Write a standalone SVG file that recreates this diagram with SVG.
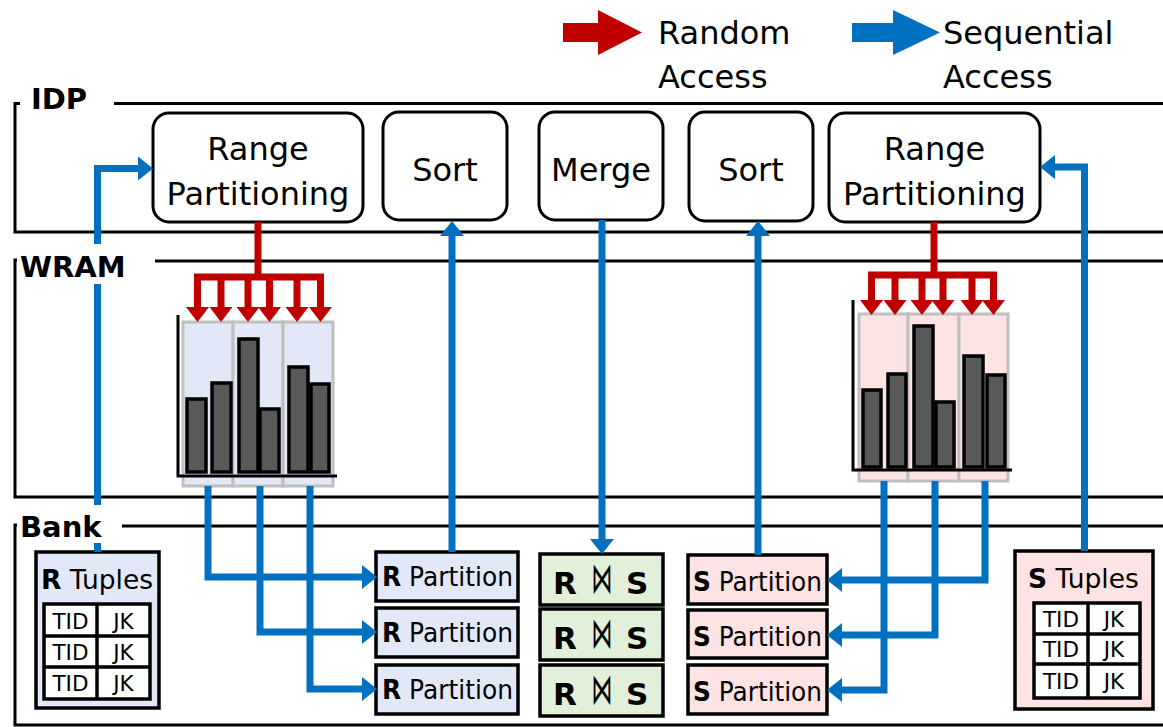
<svg xmlns="http://www.w3.org/2000/svg" width="1163" height="727" viewBox="0 0 1163 727">
  <style>
    text { font-family: "DejaVu Sans", "Liberation Sans", sans-serif; fill: #000; }
    .layer { fill: none; stroke: #000; stroke-width: 3; }
    .lbl { font-size: 29px; font-weight: bold; }
    .op { fill: #fff; stroke: #000; stroke-width: 3; }
    .opt { font-size: 32px; text-anchor: middle; }
    .leg { font-size: 32px; }
    .seq { fill: none; stroke: #0070C0; stroke-width: 7; stroke-linejoin: miter; marker-end: url(#hb); }
    .rnd { fill: none; stroke: #C00000; stroke-width: 7; }
    .rnda { fill: none; stroke: #C00000; stroke-width: 7; marker-end: url(#hr); }
    .colR { fill: #E2E8F7; stroke: #BFBFBF; stroke-width: 3; }
    .colS { fill: #FDE3E3; stroke: #BFBFBF; stroke-width: 3; }
    .bar { fill: #595959; stroke: #000; stroke-width: 3.5; }
    .axis { fill: none; stroke: #000; stroke-width: 3; }
    .boxR { fill: #E2E8F7; stroke: #000; stroke-width: 3.5; }
    .boxS { fill: #FDE3E3; stroke: #000; stroke-width: 3.5; }
    .boxJ { fill: #E2F0D9; stroke: #000; stroke-width: 3.5; }
    .tbl { fill: #fff; stroke: #000; stroke-width: 3.5; }
    .tline { stroke: #000; stroke-width: 3.5; }
    .cell { font-size: 21.5px; text-anchor: middle; }
    .part { font-size: 27px; }
    .tup { font-size: 26.5px; }
    .join { font-size: 31px; font-weight: bold; }
    .bowtie { font-size: 30px; text-anchor: middle; }
  </style>
  <defs>
    <marker id="hb" markerUnits="userSpaceOnUse" markerWidth="16" markerHeight="24" refX="0" refY="12" orient="auto" overflow="visible">
      <path d="M0,0 L15,12 L0,24 Z" fill="#0070C0"/>
    </marker>
    <marker id="hr" markerUnits="userSpaceOnUse" markerWidth="16" markerHeight="24" refX="0" refY="11.5" orient="auto" overflow="visible">
      <path d="M0,0 L15,11.5 L0,23 Z" fill="#C00000"/>
    </marker>
  </defs>

  <!-- legend -->
  <g id="legend">
    <polygon points="563,23 598,23 598,10 642,32.5 598,55 598,42 563,42" fill="#C00000"/>
    <text class="leg" x="658" y="44">Random</text>
    <text class="leg" x="658" y="88">Access</text>
    <polygon points="852,23 893,23 893,10 940,32.5 893,55 893,42 852,42" fill="#0070C0"/>
    <text class="leg" x="943" y="44">Sequential</text>
    <text class="leg" x="943" y="88">Access</text>
  </g>

  <!-- memory layers -->
  <g id="layers">
    <path class="layer" d="M20,103.5 H15 V232 H1163"/>
    <path class="layer" d="M114,103.5 H1163"/>
    <path class="layer" d="M20,260 H15 V497 H1163"/>
    <path class="layer" d="M155,261 H1163"/>
    <path class="layer" d="M20,525 H15 V725 H1163"/>
    <path class="layer" d="M122,526 H1163"/>
  </g>

  <!-- IDP operations -->
  <g id="range-part-r">
    <rect class="op" x="153" y="113" width="210" height="109" rx="16"/>
    <text class="opt" x="258" y="160">Range</text>
    <text class="opt" x="258" y="205">Partitioning</text>
  </g>
  <g id="sort-r">
    <rect class="op" x="383" y="112" width="124" height="108" rx="16"/>
    <text class="opt" x="445" y="181">Sort</text>
  </g>
  <g id="merge">
    <rect class="op" x="539" y="112" width="124" height="108" rx="16"/>
    <text class="opt" x="601" y="181">Merge</text>
  </g>
  <g id="sort-s">
    <rect class="op" x="689" y="112" width="124" height="109" rx="16"/>
    <text class="opt" x="751" y="181">Sort</text>
  </g>
  <g id="range-part-s">
    <rect class="op" x="829" y="113" width="211" height="109" rx="16"/>
    <text class="opt" x="934.5" y="160">Range</text>
    <text class="opt" x="934.5" y="205">Partitioning</text>
  </g>

  <!-- WRAM histogram of R -->
  <g id="hist-r">
    <rect class="colR" x="183" y="322" width="50" height="164"/>
    <rect class="colR" x="233" y="322" width="50" height="164"/>
    <rect class="colR" x="283" y="322" width="50" height="164"/>
    <rect class="bar" x="187" y="399" width="19" height="73"/>
    <rect class="bar" x="212" y="383" width="19" height="89"/>
    <rect class="bar" x="239" y="339" width="19" height="133"/>
    <rect class="bar" x="260" y="409" width="19" height="63"/>
    <rect class="bar" x="289" y="367" width="19" height="105"/>
    <rect class="bar" x="311" y="384" width="18" height="88"/>
    <path class="axis" d="M178,315 V476 H337"/>
  </g>

  <!-- WRAM histogram of S -->
  <g id="hist-s">
    <rect class="colS" x="859" y="314" width="49" height="167"/>
    <rect class="colS" x="908" y="314" width="51" height="167"/>
    <rect class="colS" x="959" y="314" width="49" height="167"/>
    <rect class="bar" x="863" y="390" width="18" height="77"/>
    <rect class="bar" x="888" y="374" width="18" height="93"/>
    <rect class="bar" x="914" y="326" width="19" height="141"/>
    <rect class="bar" x="936" y="402" width="18" height="65"/>
    <rect class="bar" x="964" y="356" width="19" height="111"/>
    <rect class="bar" x="987" y="375" width="18" height="92"/>
    <path class="axis" d="M853,300 V470 H1012"/>
  </g>

  <!-- Bank: R tuples -->
  <g id="r-tuples">
    <rect class="boxR" x="36" y="552" width="123" height="156"/>
    <text class="tup" x="41" y="589"><tspan font-weight="bold">R</tspan> Tuples</text>
    <rect class="tbl" x="44" y="604" width="106" height="95"/>
    <line class="tline" x1="97" y1="604" x2="97" y2="699"/>
    <line class="tline" x1="44" y1="636" x2="150" y2="636"/>
    <line class="tline" x1="44" y1="667" x2="150" y2="667"/>
    <text class="cell" x="70.5" y="629">TID</text>
    <text class="cell" x="123.5" y="629">JK</text>
    <text class="cell" x="70.5" y="660">TID</text>
    <text class="cell" x="123.5" y="660">JK</text>
    <text class="cell" x="70.5" y="691">TID</text>
    <text class="cell" x="123.5" y="691">JK</text>
  </g>

  <!-- Bank: S tuples -->
  <g id="s-tuples">
    <rect class="boxS" x="1015" y="551" width="138" height="158"/>
    <text class="tup" x="1028" y="588"><tspan font-weight="bold">S</tspan> Tuples</text>
    <rect class="tbl" x="1034" y="603" width="106" height="95"/>
    <line class="tline" x1="1088" y1="603" x2="1088" y2="698"/>
    <line class="tline" x1="1034" y1="634" x2="1140" y2="634"/>
    <line class="tline" x1="1034" y1="664" x2="1140" y2="664"/>
    <text class="cell" x="1061" y="627">TID</text>
    <text class="cell" x="1114" y="627">JK</text>
    <text class="cell" x="1061" y="657">TID</text>
    <text class="cell" x="1114" y="657">JK</text>
    <text class="cell" x="1061" y="689">TID</text>
    <text class="cell" x="1114" y="689">JK</text>
  </g>

  <!-- Bank: R partitions -->
  <g id="r-part-1">
    <rect class="boxR" x="376" y="552" width="142" height="49"/>
    <text class="part" x="382" y="586" textLength="131" lengthAdjust="spacingAndGlyphs"><tspan font-weight="bold">R</tspan> Partition</text>
  </g>
  <g id="r-part-2">
    <rect class="boxR" x="376" y="608" width="142" height="49"/>
    <text class="part" x="382" y="642" textLength="131" lengthAdjust="spacingAndGlyphs"><tspan font-weight="bold">R</tspan> Partition</text>
  </g>
  <g id="r-part-3">
    <rect class="boxR" x="376" y="665" width="142" height="49"/>
    <text class="part" x="382" y="699" textLength="131" lengthAdjust="spacingAndGlyphs"><tspan font-weight="bold">R</tspan> Partition</text>
  </g>

  <!-- Bank: join results -->
  <g id="join-1">
    <rect class="boxJ" x="540" y="554" width="123" height="51"/>
    <text class="join" x="553" y="594">R</text>
    <text class="bowtie" transform="translate(602,593) scale(0.7,1.45)">⋈</text>
    <text class="join" x="626" y="594">S</text>
  </g>
  <g id="join-2">
    <rect class="boxJ" x="540" y="609" width="123" height="51"/>
    <text class="join" x="553" y="649">R</text>
    <text class="bowtie" transform="translate(602,648) scale(0.7,1.45)">⋈</text>
    <text class="join" x="626" y="649">S</text>
  </g>
  <g id="join-3">
    <rect class="boxJ" x="540" y="665" width="123" height="51"/>
    <text class="join" x="553" y="705">R</text>
    <text class="bowtie" transform="translate(602,704) scale(0.7,1.45)">⋈</text>
    <text class="join" x="626" y="705">S</text>
  </g>

  <!-- Bank: S partitions -->
  <g id="s-part-1">
    <rect class="boxS" x="688" y="555" width="139" height="49"/>
    <text class="part" x="693" y="591" textLength="129" lengthAdjust="spacingAndGlyphs"><tspan font-weight="bold">S</tspan> Partition</text>
  </g>
  <g id="s-part-2">
    <rect class="boxS" x="688" y="610" width="139" height="48"/>
    <text class="part" x="693" y="646" textLength="129" lengthAdjust="spacingAndGlyphs"><tspan font-weight="bold">S</tspan> Partition</text>
  </g>
  <g id="s-part-3">
    <rect class="boxS" x="688" y="665" width="139" height="49"/>
    <text class="part" x="693" y="701" textLength="129" lengthAdjust="spacingAndGlyphs"><tspan font-weight="bold">S</tspan> Partition</text>
  </g>

  <!-- connectors -->
  <g id="connectors">
    <!-- random access: partitioning scatters into histogram buckets -->
    <path class="rnd" d="M258,222 V277"/>
    <path class="rnd" d="M194,277 H324"/>
    <path class="rnda" d="M197.5,274 V307"/>
    <path class="rnda" d="M221,274 V307"/>
    <path class="rnda" d="M248,274 V307"/>
    <path class="rnda" d="M269.5,274 V307"/>
    <path class="rnda" d="M297,274 V307"/>
    <path class="rnda" d="M320.5,274 V307"/>

    <path class="rnd" d="M934,222 V275"/>
    <path class="rnd" d="M868,275 H997"/>
    <path class="rnda" d="M871.5,272 V300"/>
    <path class="rnda" d="M895,272 V300"/>
    <path class="rnda" d="M922,272 V300"/>
    <path class="rnda" d="M943,272 V300"/>
    <path class="rnda" d="M972,272 V300"/>
    <path class="rnda" d="M993.5,272 V300"/>

    <!-- sequential access -->
    <path class="seq" d="M97.5,552 V168.5 H138"/>
    <path class="seq" d="M452,552 V236"/>
    <path class="seq" d="M602,220 V539"/>
    <path class="seq" d="M758,555 V236"/>
    <path class="seq" d="M1084.5,551 V167 H1055"/>

    <path class="seq" d="M208,486 V577 H362"/>
    <path class="seq" d="M260,486 V632 H362"/>
    <path class="seq" d="M310,486 V689 H362"/>

    <path class="seq" d="M985,481 V580 H842"/>
    <path class="seq" d="M935,481 V635 H842"/>
    <path class="seq" d="M884,481 V690 H842"/>
  </g>

  <!-- layer names -->
  <g id="layer-labels">
    <text class="lbl" x="31" y="109">IDP</text>
    <rect x="17" y="244" width="135" height="40" fill="#fff"/>
    <text class="lbl" x="20" y="277">WRAM</text>
    <rect x="17" y="505" width="101" height="38" fill="#fff"/>
    <text class="lbl" x="20" y="537">Bank</text>
  </g>
</svg>
